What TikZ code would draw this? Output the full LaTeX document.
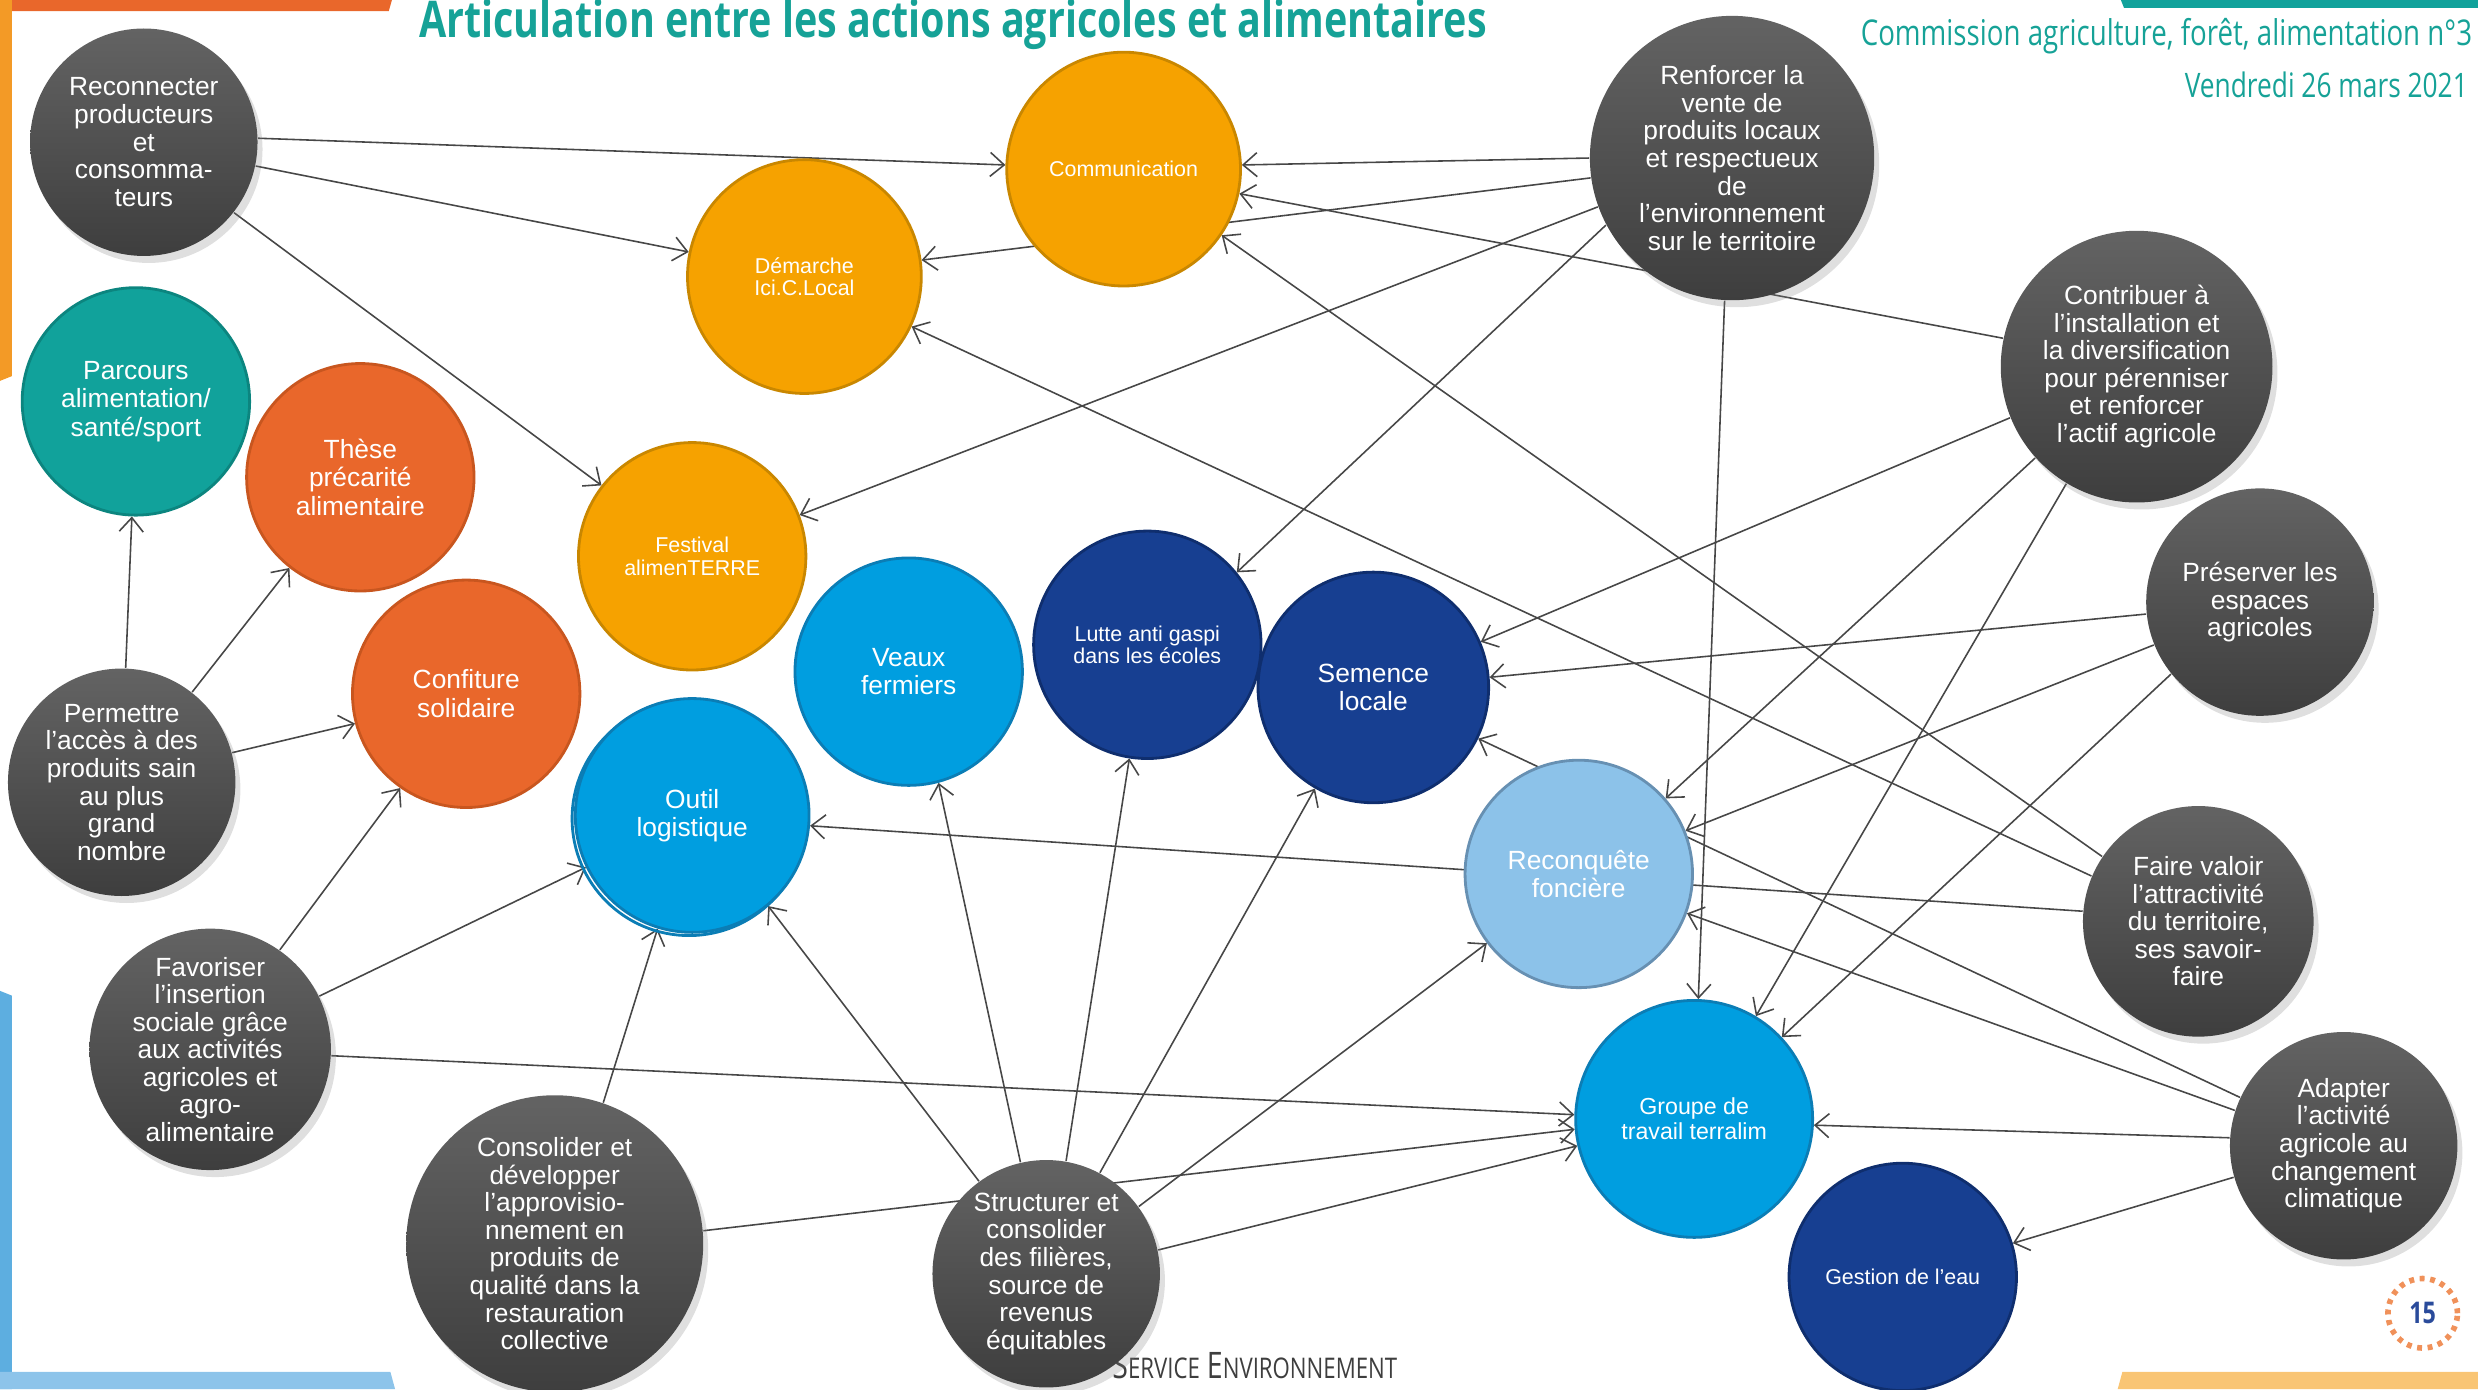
\documentclass[tikz,border=0pt]{standalone}
\usepackage{fontspec}
\setmainfont{Liberation Sans}
\newfontfamily\headfont[FakeStretch=0.78]{Open Sans}
\usepackage{tikz}
\usetikzlibrary{arrows.meta,shadows,backgrounds}

\definecolor{goaltop}{HTML}{636363}
\definecolor{goalbottom}{HTML}{3E3E3E}
\definecolor{tealfill}{HTML}{11A29B}
\definecolor{tealedge}{HTML}{0C857F}
\definecolor{redfill}{HTML}{E9672B}
\definecolor{rededge}{HTML}{C8561F}
\definecolor{orangefill}{HTML}{F6A200}
\definecolor{orangeedge}{HTML}{C98700}
\definecolor{bluefill}{HTML}{009EE0}
\definecolor{blueedge}{HTML}{0B7DB5}
\definecolor{navyfill}{HTML}{173F91}
\definecolor{navyedge}{HTML}{0F2E6E}
\definecolor{lightfill}{HTML}{8CC2E9}
\definecolor{lightedge}{HTML}{6790B2}
\definecolor{linkgray}{HTML}{474747}
\definecolor{headteal}{HTML}{16A297}
\definecolor{pageblue}{HTML}{2A4B9B}
\definecolor{pagedots}{HTML}{F0915A}

\tikzset{
    goal-circle/.style = {circle, minimum size=#1*0.031608cm, inner sep=0pt, top color=goaltop, bottom color=goalbottom,
        text=white, align=center, font=\fontsize{7.5}{7.85}\selectfont,
        drop shadow={shadow xshift=0.5mm, shadow yshift=-0.7mm, opacity=0.25}},
    action-circle/.style = {circle, minimum size=#1*0.031608cm, inner sep=0pt, line width=0.8pt,
        text=white, align=center, font=\fontsize{7.5}{8.1}\selectfont},
    small-text/.style = {font=\fontsize{6.1}{6.3}\selectfont},
    link-arrow/.style = {draw=linkgray, line width=0.45pt, -{Straight Barb[length=1.4mm,width=2.4mm]}},
}

\begin{document}
\begin{tikzpicture}[x=0.015804cm, y=-0.015804cm]
\useasboundingbox (0,0) rectangle (1568,879);

% page frame
\fill[color=redfill] (0,0) -- (248,0) -- (246,7) -- (0,7) -- cycle;
\fill[color={rgb,255:red,243;green,154;blue,38}] (0,0) -- (7.5,0) -- (7.5,238) -- (0,241) -- cycle;
\fill[color={rgb,255:red,93;green,174;blue,224}] (0,627) -- (7.5,630) -- (7.5,879) -- (0,879) -- cycle;
\fill[color={rgb,255:red,141;green,196;blue,234}] (0,868) -- (247,868) -- (250,879) -- (0,879) -- cycle;
\fill[color={rgb,255:red,249;green,197;blue,116}] (1343,868) -- (1568,868) -- (1568,879) -- (1340,879) -- cycle;
\fill[color=tealfill] (1342,0) -- (1568,0) -- (1568,5) -- (1344,5) -- cycle;

% headings
\node[anchor=base, text=headteal, font=\headfont\bfseries\fontsize{14.4}{15}\selectfont] (title) at (603,24)
    {Articulation entre les actions agricoles et alimentaires};
\node[anchor=base west, inner sep=0pt, text=headteal, font=\headfont\fontsize{10.1}{11}\selectfont] (commission) at (1177,29)
    {Commission agriculture, forêt, alimentation n°3};
\node[anchor=base east, inner sep=0pt, text=headteal, font=\headfont\fontsize{9.6}{10}\selectfont] (date) at (1562,62)
    {Vendredi 26 mars 2021};
\node[anchor=base, inner sep=0pt, text=goalbottom, font=\headfont] (service) at (794,872)
    {{\fontsize{10.4}{11}\selectfont S}{\fontsize{8.1}{9}\selectfont ERVICE} {\fontsize{10.4}{11}\selectfont E}{\fontsize{8.1}{9}\selectfont NVIRONNEMENT}};
\node[circle, draw=pagedots, line width=1.6pt, dash pattern=on 1.4pt off 1.6pt, minimum size=22*0.031608cm,
    inner sep=0pt, text=pageblue, font=\headfont\bfseries\fontsize{8.5}{9}\selectfont] (page) at (1533,831) {15};

% objectives (dark circles)
\node[goal-circle=72] (reco) at (91,90) {Reconnecter\\producteurs\\et\\consomma-\\teurs};
\node[goal-circle=72] (permettre) at (77,495) {Permettre\\l’accès à des\\produits sain\\au plus\\grand\\nombre};
\node[goal-circle=72] (favoriser) at (133,664) {Favoriser\\l’insertion\\sociale grâce\\aux activités\\agricoles et\\agro-\\alimentaire};
\node[goal-circle=94] (consolider) at (351,787) {Consolider et\\développer\\l’approvisio-\\nnement en\\produits de\\qualité dans la\\restauration\\collective};
\node[goal-circle=72] (structurer) at (662,806) {Structurer et\\consolider\\des filières,\\source de\\revenus\\équitables};
\node[goal-circle=90] (renforcer) at (1096,100) {Renforcer la\\vente de\\produits locaux\\et respectueux\\de\\l’environnement\\sur le territoire};
\node[goal-circle=86] (contribuer) at (1352,232) {Contribuer à\\l’installation et\\la diversification\\pour pérenniser\\et renforcer\\l’actif agricole};
\node[goal-circle=72] (preserver) at (1430,381) {Préserver les\\espaces\\agricoles};
\node[goal-circle=73] (valoir) at (1391,583) {Faire valoir\\l’attractivité\\du territoire,\\ses savoir-\\faire};
\node[goal-circle=72] (adapter) at (1483,725) {Adapter\\l’activité\\agricole au\\changement\\climatique};

% actions (coloured circles)
\node[action-circle=72, fill=tealfill, draw=tealedge] (parcours) at (86,254) {Parcours\\alimentation/\\santé/sport};
\node[action-circle=72, fill=redfill, draw=rededge] (these) at (228,302) {Thèse\\précarité\\alimentaire};
\node[action-circle=72, fill=redfill, draw=rededge] (confiture) at (295,439) {Confiture\\solidaire};
\node[action-circle=74, small-text, fill=orangefill, draw=orangeedge] (comm) at (711,107) {Communication};
\node[action-circle=74, small-text, fill=orangefill, draw=orangeedge] (demarche) at (509,175) {Démarche\\Ici.C.Local};
\node[action-circle=72, small-text, fill=orangefill, draw=orangeedge] (festival) at (438,352) {Festival\\alimenTERRE};
\node[action-circle=72, fill=bluefill, draw=blueedge] (veaux) at (575,425) {Veaux\\fermiers};
\draw[blueedge, line width=0.8pt] (436,518) circle (74);
\node[action-circle=74, fill=bluefill, draw=blueedge] (outil) at (438,516) {Outil\\logistique};
\node[action-circle=72, small-text, fill=navyfill, draw=navyedge] (gaspi) at (726,408) {Lutte anti gaspi\\dans les écoles};
\node[action-circle=73, fill=navyfill, draw=navyedge] (semence) at (869,435) {Semence\\locale};
\node[action-circle=72, fill=lightfill, draw=lightedge] (foncier) at (999,553) {Reconquête\\foncière};
\node[action-circle=75, fill=bluefill, draw=blueedge, font=\fontsize{6.6}{7}\selectfont] (terralim) at (1072,708) {Groupe de\\travail terralim};
\node[action-circle=72, small-text, fill=navyfill, draw=navyedge] (eau) at (1204,808) {Gestion de l’eau};

% links
\begin{scope}[on background layer]
\draw[link-arrow] (reco.2) -- (comm.178);
\draw[link-arrow] (reco.-12) -- (demarche.168);
\draw[link-arrow] (reco.-38) -- (festival.142);
\draw[link-arrow] (renforcer.180) -- (comm.2);
\draw[link-arrow] (renforcer.188) -- (demarche.8);
\draw[link-arrow] (renforcer.200) -- (festival.21);
\draw[link-arrow] (renforcer.208) -- (gaspi.39);
\draw[link-arrow] (renforcer.267) -- (terralim.88);
\draw[link-arrow] (contribuer.168) -- (comm.-12);
\draw[link-arrow] (contribuer.202) -- (semence.23);
\draw[link-arrow] (contribuer.222) -- (foncier.41);
\draw[link-arrow] (contribuer.239) -- (terralim.59);
\draw[link-arrow] (preserver.186) -- (semence.5);
\draw[link-arrow] (preserver.202) -- (foncier.22);
\draw[link-arrow] (preserver.219) -- (terralim.43);
\draw[link-arrow] (valoir.146) -- (comm.-34);
\draw[link-arrow] (valoir.157) -- (demarche.-25);
\draw[link-arrow] (valoir.175) -- (outil.-5);
\draw[link-arrow] (adapter.155) -- (semence.-26);
\draw[link-arrow] (adapter.162) -- (foncier.-20);
\draw[link-arrow] (adapter.176) -- (terralim.-3);
\draw[link-arrow] (adapter.196) -- (eau.17);
\draw[link-arrow] (structurer.126) -- (outil.-50);
\draw[link-arrow] (structurer.103) -- (veaux.-75);
\draw[link-arrow] (structurer.80) -- (gaspi.261);
\draw[link-arrow] (structurer.62) -- (semence.240);
\draw[link-arrow] (structurer.36) -- (foncier.217);
\draw[link-arrow] (structurer.12) -- (terralim.193);
\draw[link-arrow] (consolider.71) -- (outil.253);
\draw[link-arrow] (consolider.5) -- (terralim.185);
\draw[link-arrow] (favoriser.55) -- (confiture.235);
\draw[link-arrow] (favoriser.26) -- (outil.206);
\draw[link-arrow] (favoriser.-3) -- (terralim.178);
\draw[link-arrow] (permettre.88) -- (parcours.268);
\draw[link-arrow] (permettre.52) -- (these.232);
\draw[link-arrow] (permettre.15) -- (confiture.195);
\end{scope}
\end{tikzpicture}
\end{document}
